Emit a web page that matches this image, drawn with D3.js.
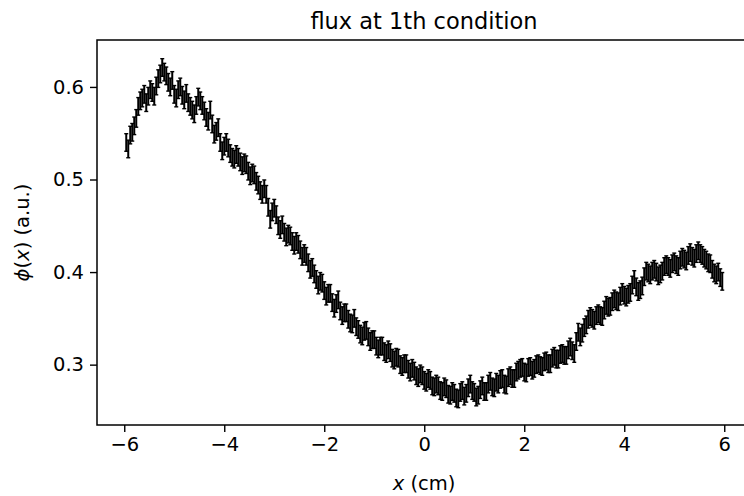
<!DOCTYPE html>
<html>
<head>
<meta charset="utf-8">
<script src="https://cdn.jsdelivr.net/npm/d3@7"></script>
<style>
  body { margin: 0; background: #fff; }
  svg { display: block; font-family: "DejaVu Sans", sans-serif; }
</style>
</head>
<body>
<div id="chart"></div>
<script>
// data: flux values at evenly spaced positions (cm)
var xStart = -5.96, xStep = 0.04;
var fluxValues = [
  0.540, 0.533, 0.548, 0.551, 0.558, 0.566, 0.579, 0.585, 0.588, 0.592,
  0.583, 0.590, 0.597, 0.594, 0.590, 0.601, 0.609, 0.614, 0.621, 0.616,
  0.612, 0.605, 0.600, 0.607, 0.592, 0.588, 0.597, 0.600, 0.591, 0.586,
  0.593, 0.583, 0.579, 0.575, 0.571, 0.580, 0.589, 0.585, 0.580, 0.574,
  0.567, 0.563, 0.575, 0.560, 0.549, 0.552, 0.556, 0.540, 0.531, 0.536,
  0.540, 0.534, 0.528, 0.524, 0.522, 0.527, 0.524, 0.519, 0.515, 0.518,
  0.516, 0.509, 0.504, 0.507, 0.505, 0.498, 0.494, 0.488, 0.484, 0.490,
  0.484, 0.470, 0.457, 0.465, 0.469, 0.462, 0.450, 0.446, 0.451, 0.443,
  0.438, 0.441, 0.439, 0.433, 0.429, 0.433, 0.430, 0.424, 0.417, 0.420,
  0.417, 0.410, 0.403, 0.405, 0.398, 0.392, 0.386, 0.390, 0.388, 0.380,
  0.374, 0.377, 0.377, 0.367, 0.361, 0.366, 0.370, 0.358, 0.353, 0.356,
  0.356, 0.349, 0.345, 0.344, 0.350, 0.341, 0.338, 0.333, 0.331, 0.336,
  0.337, 0.330, 0.325, 0.327, 0.327, 0.320, 0.317, 0.320, 0.320, 0.314,
  0.312, 0.316, 0.313, 0.307, 0.305, 0.308, 0.307, 0.300, 0.298, 0.301,
  0.301, 0.295, 0.292, 0.296, 0.293, 0.288, 0.286, 0.290, 0.288, 0.283,
  0.281, 0.285, 0.283, 0.277, 0.276, 0.279, 0.277, 0.272, 0.271, 0.276,
  0.274, 0.268, 0.267, 0.271, 0.269, 0.264, 0.263, 0.270, 0.272, 0.266,
  0.269, 0.275, 0.279, 0.272, 0.270, 0.265, 0.267, 0.273, 0.277, 0.271,
  0.271, 0.279, 0.282, 0.276, 0.275, 0.281, 0.279, 0.284, 0.285, 0.279,
  0.278, 0.286, 0.288, 0.285, 0.285, 0.292, 0.294, 0.296, 0.297, 0.292,
  0.291, 0.297, 0.298, 0.294, 0.296, 0.300, 0.301, 0.299, 0.298, 0.303,
  0.304, 0.301, 0.301, 0.307, 0.309, 0.306, 0.306, 0.311, 0.312, 0.310,
  0.310, 0.316, 0.319, 0.315, 0.312, 0.325, 0.335, 0.330, 0.334, 0.340,
  0.343, 0.349, 0.352, 0.350, 0.348, 0.353, 0.355, 0.353, 0.352, 0.359,
  0.364, 0.362, 0.363, 0.368, 0.371, 0.369, 0.368, 0.374, 0.378, 0.375,
  0.373, 0.376, 0.378, 0.386, 0.392, 0.384, 0.379, 0.381, 0.385, 0.395,
  0.401, 0.399, 0.397, 0.401, 0.403, 0.400, 0.396, 0.398, 0.401, 0.406,
  0.408, 0.406, 0.404, 0.409, 0.411, 0.408, 0.406, 0.413, 0.416, 0.414,
  0.412, 0.418, 0.421, 0.417, 0.415, 0.420, 0.423, 0.420, 0.418, 0.415,
  0.413, 0.410, 0.409, 0.403, 0.399, 0.397, 0.400, 0.394, 0.390
];
var fluxError = 0.0095;
var xTicks = [-6, -4, -2, 0, 2, 4, 6];
var yTicks = [0.3, 0.4, 0.5, 0.6];

var data = fluxValues.map(function(v, i) {
  return { x: xStart + i * xStep, y: v };
});

// set the dimensions and margins of the graph
var W = 744, H = 496;
var margin = {top: 40, left: 97, bottom: 71};
var height = H - margin.top - margin.bottom;
var width = 654;  // right spine falls just outside the picture

var svg = d3.select("#chart")
  .append("svg")
    .attr("width", W)
    .attr("height", H);

var g = svg.append("g")
    .attr("transform", "translate(" + margin.left + "," + margin.top + ")");

var x = d3.scaleLinear()
  .domain([-6.545, 6.535])
  .range([0, width]);

var y = d3.scaleLinear()
  .domain([0.2348, 0.6507])
  .range([height, 0]);

// error bars
var bars = g.append("g");
bars.selectAll("line.bar")
  .data(data)
  .enter().append("line")
    .attr("class", "bar")
    .attr("x1", function(d) { return x(d.x); })
    .attr("x2", function(d) { return x(d.x); })
    .attr("y1", function(d) { return y(d.y - fluxError); })
    .attr("y2", function(d) { return y(d.y + fluxError); })
    .attr("stroke", "#000")
    .attr("stroke-width", 2);

["lo", "hi"].forEach(function(k) {
  bars.selectAll("line.cap" + k)
    .data(data)
    .enter().append("line")
      .attr("x1", function(d) { return x(d.x) - 2; })
      .attr("x2", function(d) { return x(d.x) + 2; })
      .attr("y1", function(d) { return y(k == "lo" ? d.y - fluxError : d.y + fluxError); })
      .attr("y2", function(d) { return y(k == "lo" ? d.y - fluxError : d.y + fluxError); })
      .attr("stroke", "#000")
      .attr("stroke-width", 1.4);
});

// axes
var xAxis = g.append("g")
  .attr("transform", "translate(0," + height + ")")
  .call(d3.axisBottom(x).tickValues(xTicks).tickSize(7).tickPadding(5)
    .tickFormat(function(d) { return d < 0 ? "\u2212" + Math.abs(d) : d; }));

var yAxis = g.append("g")
  .call(d3.axisLeft(y).tickValues(yTicks).tickSize(7).tickPadding(6)
    .tickFormat(d3.format(".1f")));

[xAxis, yAxis].forEach(function(a) {
  a.select(".domain").remove();
  a.selectAll(".tick line").attr("stroke", "#000").attr("stroke-width", 1.4);
  a.selectAll(".tick text")
    .attr("fill", "#000")
    .style("font-size", "19.5px")
    .style("font-family", "DejaVu Sans, sans-serif");
});

// frame
g.append("rect")
  .attr("x", 0).attr("y", 0)
  .attr("width", width).attr("height", height)
  .attr("fill", "none")
  .attr("stroke", "#000")
  .attr("stroke-width", 1.5);

// title
svg.append("text")
  .attr("x", 424).attr("y", 29)
  .attr("text-anchor", "middle")
  .style("font-size", "22.5px")
  .text("flux at 1th condition");

// x label
var xl = svg.append("text")
  .attr("x", 424).attr("y", 490)
  .attr("text-anchor", "middle")
  .style("font-size", "19.5px");
xl.append("tspan").style("font-style", "italic").text("x");
xl.append("tspan").text(" (cm)");

// y label
var yl = svg.append("text")
  .attr("transform", "translate(29," + (margin.top + height / 2) + ") rotate(-90)")
  .attr("text-anchor", "middle")
  .style("font-size", "19.5px");
yl.append("tspan").style("font-style", "italic").text("\u03d5");
yl.append("tspan").text("(");
yl.append("tspan").style("font-style", "italic").text("x");
yl.append("tspan").text(") (a.u.)");
</script>
</body>
</html>
